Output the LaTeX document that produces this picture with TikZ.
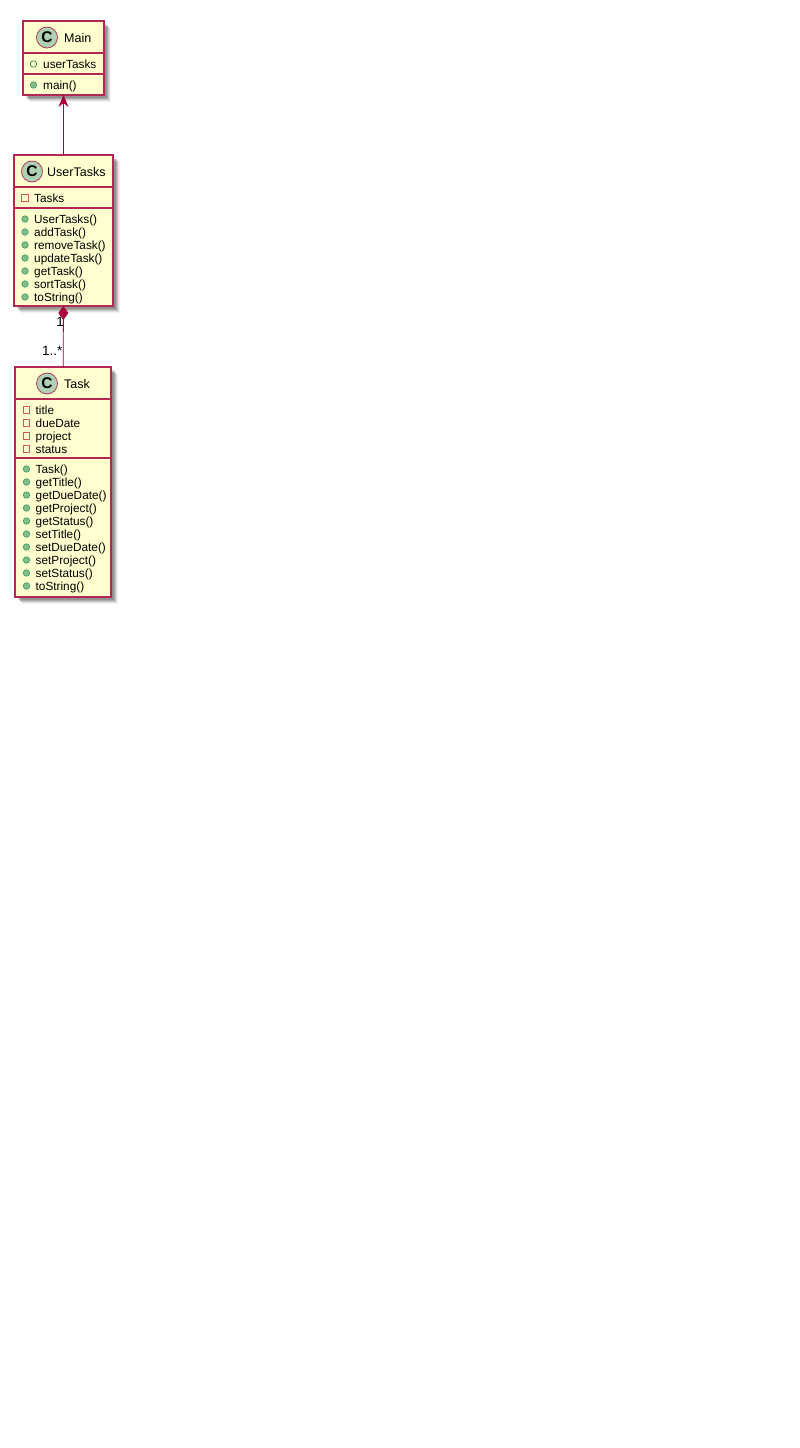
\documentclass[tikz,border=0pt]{standalone}
\usepackage{fontspec}
\setmainfont{Liberation Sans}
\usetikzlibrary{arrows.meta,shadows}
\definecolor{classline}{HTML}{A80036}
\definecolor{classfill}{HTML}{FEFECE}
\definecolor{iconfill}{HTML}{ADD1B2}
\definecolor{pubfill}{HTML}{84BE84}
\definecolor{publine}{HTML}{038048}
\definecolor{privline}{HTML}{C82930}
\begin{document}
\begin{tikzpicture}[x=1pt, y=-1pt,
    classbox/.style = {draw=classline!85!white, fill=classfill, line width=1.1pt, rectangle, inner sep=0pt, outer sep=0pt,
        drop shadow={shadow xshift=6.5pt, shadow yshift=-6.5pt, opacity=.05, fill=black},
        drop shadow={shadow xshift=5.5pt, shadow yshift=-5.5pt, opacity=.08, fill=black},
        drop shadow={shadow xshift=4.5pt, shadow yshift=-4.5pt, opacity=.11, fill=black},
        drop shadow={shadow xshift=3.5pt, shadow yshift=-3.5pt, opacity=.14, fill=black},
        drop shadow={shadow xshift=2.5pt, shadow yshift=-2.5pt, opacity=.14, fill=black}},
    icon/.style = {draw=classline!85!white, fill=iconfill, circle, line width=.7pt, minimum size=21pt, inner sep=0pt, font=\fontsize{15.5}{15.5}\bfseries},
    title/.style = {inner sep=0pt, anchor=base west, font=\fontsize{12.5}{13}\selectfont},
    member/.style = {inner sep=0pt, anchor=base west, font=\fontsize{11.8}{13}\selectfont},
    mult/.style = {inner sep=0pt, anchor=base east, font=\fontsize{13.5}{14}\selectfont},
    pub/.style = {draw=publine!80!white, fill=pubfill, circle, line width=.6pt, minimum size=6.5pt, inner sep=0pt},
    pubopen/.style = {draw=publine, fill=classfill, circle, line width=.6pt, minimum size=6.5pt, inner sep=0pt},
    priv/.style = {draw=privline!80!white, fill=classfill, rectangle, line width=.7pt, minimum size=6.5pt, inner sep=0pt},
    sep/.style = {classline!85!white, line width=1.1pt},
    link/.style = {draw=classline, line width=.9pt}]
    \useasboundingbox[fill=white] (0,0) rectangle (800,1448);

    % boxes
    \node[classbox, minimum width=81pt, minimum height=74pt] (main) at (63.5,58) {};
    \node[classbox, minimum width=99pt, minimum height=151pt] (usertasks) at (63.5,230.5) {};
    \node[classbox, minimum width=96pt, minimum height=230pt] (task) at (63,482) {};

    % connectors
    \draw[link, {Stealth[length=12pt, width=10pt, inset=4pt]}-] (main) -- (usertasks);
    \draw[link, {Diamond[length=14pt, width=10pt]}-] (usertasks) -- (task);
    \node[mult] (one) at (64,326.5) {1};
    \node[mult] (many) at (62.5,355.5) {1..*};

    % Main
    \node[icon] (mainicon) at (47,37.5) {C};
    \node[title] (maintitle) at (64,42) {Main};
    \draw[sep] (main.west |- 0,53) -- (main.east |- 0,53);
    \draw[sep] (main.west |- 0,74) -- (main.east |- 0,74);
    \node[pubopen] (mainattr) at (33.5,64) {};
    \node[member] at (43,68) {userTasks};
    \node[pub] (mainop) at (33.5,85) {};
    \node[member] at (43,89) {main()};

    % UserTasks
    \node[icon] (usertasksicon) at (32,171.5) {C};
    \node[title] (usertaskstitle) at (47,176) {UserTasks};
    \draw[sep] (usertasks.west |- 0,187) -- (usertasks.east |- 0,187);
    \draw[sep] (usertasks.west |- 0,208) -- (usertasks.east |- 0,208);
    \node[priv] (usertasksattr) at (25,198) {};
    \node[member] at (34,202) {Tasks};
    \foreach \y/\name in {219/UserTasks(), 232/addTask(), 245/removeTask(), 258/updateTask(),
        271/getTask(), 284/sortTask(), 297/toString()} {
        \node[pub] at (25,\y) {};
        \node[member] at (34,\y+4) {\name};
    }

    % Task
    \node[icon] (taskicon) at (47,383.5) {C};
    \node[title] (tasktitle) at (64,388) {Task};
    \draw[sep] (task.west |- 0,399) -- (task.east |- 0,399);
    \draw[sep] (task.west |- 0,458) -- (task.east |- 0,458);
    \foreach \y/\name in {410/title, 423/dueDate, 436/project, 449/status} {
        \node[priv] at (26.5,\y) {};
        \node[member] at (35.5,\y+4) {\name};
    }
    \foreach \y/\name in {469/Task(), 482/getTitle(), 495/getDueDate(), 508/getProject(), 521/getStatus(),
        534/setTitle(), 547/setDueDate(), 560/setProject(), 573/setStatus(), 586/toString()} {
        \node[pub] at (26.5,\y) {};
        \node[member] at (35.5,\y+4) {\name};
    }
\end{tikzpicture}
\end{document}
